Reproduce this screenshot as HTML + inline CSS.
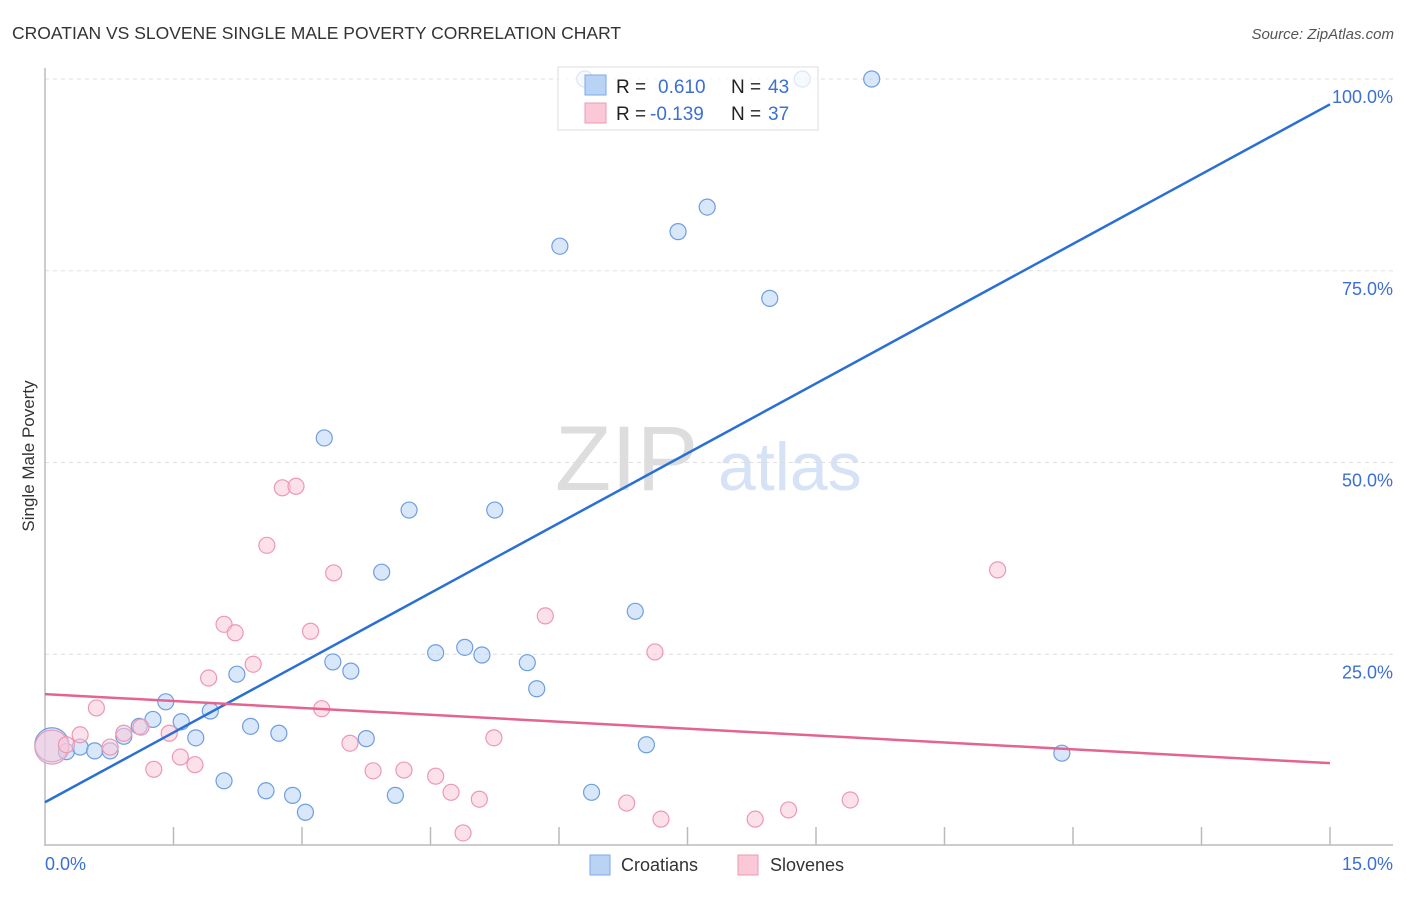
<!DOCTYPE html>
<html><head><meta charset="utf-8"><style>
body{margin:0;background:#fff;font-family:"Liberation Sans",sans-serif;}
svg text{font-family:"Liberation Sans",sans-serif;}
</style></head><body>
<svg id="chart" width="1406" height="892">
<text x="12" y="39" font-size="17.5" fill="#333">CROATIAN VS SLOVENE SINGLE MALE POVERTY CORRELATION CHART</text>
<text x="1394" y="39" font-size="15" fill="#555" font-style="italic" text-anchor="end">Source: ZipAtlas.com</text>
<text x="555" y="490" font-size="92" fill="#ddd" font-family="Liberation Serif">ZIP</text>
<text x="718" y="490" font-size="68" fill="#d6e2f5">atlas</text>
<g id="grid"></g>
<line x1="45" y1="68" x2="45" y2="846" stroke="#bbb" stroke-width="1.5"/>
<line x1="45" y1="845" x2="1393" y2="845" stroke="#bbb" stroke-width="1.5"/>
<text transform="translate(34,456) rotate(-90)" font-size="17" fill="#333" text-anchor="middle">Single Male Poverty</text>
<text x="45" y="870" font-size="18" fill="#3b6fd4">0.0%</text>
<text x="1393" y="870" font-size="18" fill="#3b6fd4" text-anchor="end">15.0%</text>
<g id="marks"></g>
<g>
<rect x="558" y="67" width="260" height="63" fill="#fff" fill-opacity="0.75" stroke="#ddd"/>
<rect x="585" y="75" width="21" height="20" fill="#b9d3f5" stroke="#7eaae8"/>
<rect x="585" y="103" width="21" height="20" fill="#fbc8d8" stroke="#ee9ab5"/>
<text x="616" y="93" font-size="19" fill="#222">R =</text>
<text x="658" y="93" font-size="19" fill="#3b6fd4">0.610</text>
<text x="731" y="93" font-size="19" fill="#222">N =</text>
<text x="768" y="93" font-size="19" fill="#3b6fd4">43</text>
<text x="616" y="120" font-size="19" fill="#222">R =</text>
<text x="650" y="120" font-size="19" fill="#3b6fd4">-0.139</text>
<text x="731" y="120" font-size="19" fill="#222">N =</text>
<text x="768" y="120" font-size="19" fill="#3b6fd4">37</text>
</g>
<g>
<rect x="590" y="855" width="20" height="20" fill="#b9d3f5" stroke="#7eaae8"/>
<text x="621" y="871" font-size="18" fill="#333">Croatians</text>
<rect x="738" y="855" width="20" height="20" fill="#fbc8d8" stroke="#ee9ab5"/>
<text x="770" y="871" font-size="18" fill="#333">Slovenes</text>
</g>
</svg>
<script>
const yTicks=[25,50,75,100];
const yTickLabels=["25.0%","50.0%","75.0%","100.0%"];
const xTicks=[1.5,3,4.5,6,7.5,9,10.5,12,13.5,15];
const croX=[0.08,0.25,0.41,0.58,0.76,0.92,1.10,1.26,1.41,1.59,1.76,1.93,2.09,2.24,2.40,2.58,2.73,2.89,3.04,3.26,3.36,3.57,3.75,3.93,4.09,4.25,4.56,4.90,5.10,5.25,5.63,5.74,6.01,6.38,6.89,7.02,7.39,7.73,8.46,8.84,9.65,11.87,6.30];
const croY=[13.2,12.3,12.9,12.4,12.4,14.3,15.6,16.5,18.8,16.2,14.1,17.6,8.5,22.4,15.6,7.2,14.7,6.6,4.4,53.2,24.0,22.8,14.0,35.7,6.6,43.8,25.2,25.9,24.9,43.8,23.9,20.5,78.2,7.0,30.6,13.2,80.1,83.3,71.4,100,100,12.1,100];
const sloX=[0.08,0.25,0.41,0.60,0.76,0.92,1.12,1.27,1.45,1.58,1.75,1.91,2.09,2.22,2.43,2.59,2.77,2.93,3.10,3.23,3.37,3.56,3.83,4.19,4.56,4.74,4.88,5.07,5.24,5.84,6.79,7.12,7.19,8.29,8.68,9.40,11.12];
const sloY=[12.9,13.2,14.5,18.0,12.9,14.7,15.5,10.0,14.7,11.6,10.6,21.9,28.9,27.8,23.7,39.2,46.7,46.9,28.0,17.9,35.6,13.4,9.8,9.9,9.1,7.0,1.7,6.1,14.1,30.0,5.6,25.3,3.5,3.5,4.7,6.0,36.0];
const croTrend=[5.7,96.7];
const sloTrend=[19.8,10.8];
const NS="http://www.w3.org/2000/svg";
const xs=v=>45+v/15*1285;
const ys=v=>846-v*7.67;
function mk(tag,attrs,parent){const e=document.createElementNS(NS,tag);for(const k in attrs)e.setAttribute(k,attrs[k]);parent.appendChild(e);return e;}
const grid=document.getElementById('grid');
yTicks.forEach((t,i)=>{
 const l=mk('line',{x1:45,x2:1393,y1:ys(t),y2:ys(t),stroke:'#ddd','stroke-dasharray':'4,4'},grid);
 
 
 const tx=mk('text',{x:1393,y:ys(t)+24,'font-size':18,fill:'#3b6fd4','text-anchor':'end'},grid);
 tx.textContent=yTickLabels[i];
 
 
});
xTicks.forEach(t=>{
 const l=mk('line',{x1:xs(t),x2:xs(t),y1:827,y2:845,stroke:'#bbb','stroke-width':1.5},grid);
 
 
});
const marks=document.getElementById('marks');
function pts(X,Y,fill,stroke,name){
 X.forEach((x,i)=>{
  const r=i===0?17:8;
  const c=mk('circle',{cx:xs(x),cy:ys(Y[i]),r:r,fill:fill,'fill-opacity':0.55,stroke:stroke,'stroke-width':1.2},marks);
  
  
 });
}
pts(croX,croY,'#b9d3f5','#6f9ee0','croatian-point');
pts(sloX,sloY,'#fbc8d8','#ec98b3','slovene-point');
const l1=mk('line',{x1:xs(0),y1:ys(croTrend[0]),x2:xs(15),y2:ys(croTrend[1]),stroke:'#2a6fd6','stroke-width':2.5},marks);


const l2=mk('line',{x1:xs(0),y1:ys(sloTrend[0]),x2:xs(15),y2:ys(sloTrend[1]),stroke:'#e4648f','stroke-width':2.5},marks);


</script>
</body></html>
